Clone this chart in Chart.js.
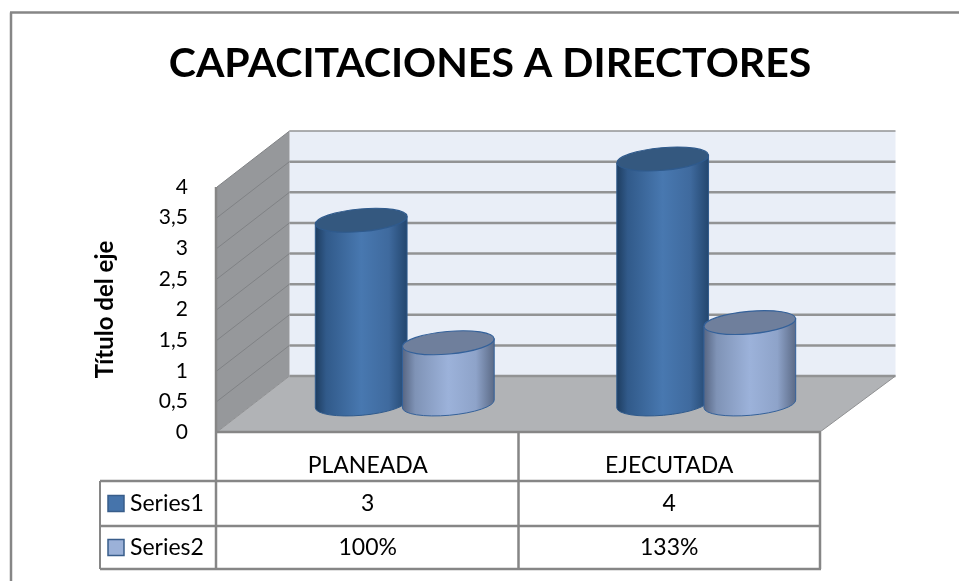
<!DOCTYPE html>
<html><head><meta charset="utf-8">
<style>html,body{margin:0;padding:0;background:#fff}#w{width:959px;height:581px;position:relative}</style>
<script src="https://cdn.jsdelivr.net/npm/chart.js@4"></script>
</head><body><div id="w"><canvas id="c" width="959" height="581"></canvas></div>
<script>
const categories = ['PLANEADA', 'EJECUTADA'];
const series1 = [3, 4];
const series2 = [1, 1.33];
const series1Labels = ['3', '4'];
const series2Labels = ['100%', '133%'];
const seriesNames = ['Series1', 'Series2'];
const titleText = 'CAPACITACIONES A DIRECTORES';
const axisTitle = 'Título del eje';
const FONT = 'Lato, Carlito, "Open Sans", sans-serif';
const LINE = '#868686';
const DX = 74, DY = -56;

function gradient(ctx, x0, x1, stops) {
  const g = ctx.createLinearGradient(x0, 0, x1, 0);
  stops.forEach(s => g.addColorStop(s[0], s[1]));
  return g;
}
const looks = [
  { stops: [[0,'#1e3d60'],[0.12,'#315a8a'],[0.5,'#4878b0'],[0.8,'#3f6a9e'],[1,'#23466e']], cap: '#34587f', edge: '#2f5a8c' },
  { stops: [[0,'#566582'],[0.14,'#7f93b6'],[0.5,'#9cb2da'],[0.8,'#8ea3c9'],[1,'#5b6a86']], cap: '#6f7f9c', edge: '#34619a' }
];
function cylinder(ctx, el, look) {
  const a = el.width / 2, b = 11.3, rot = -5 * Math.PI / 180;
  const cx = el.x + DX / 2, top = el.y + DY / 2, base = el.base + DY / 2;
  const ex = a * Math.cos(rot), ey = a * Math.sin(rot);
  ctx.save();
  ctx.beginPath();
  ctx.moveTo(cx - ex, top - ey);
  ctx.lineTo(cx - ex, base - ey);
  ctx.ellipse(cx, base, a, b, rot, Math.PI, 0, true);
  ctx.lineTo(cx + ex, top + ey);
  ctx.closePath();
  ctx.fillStyle = gradient(ctx, cx - a, cx + a, look.stops);
  ctx.fill();
  ctx.strokeStyle = look.edge; ctx.lineWidth = 1; ctx.stroke();
  ctx.beginPath();
  ctx.ellipse(cx, top, a, b, rot, 0, Math.PI * 2);
  ctx.fillStyle = look.cap; ctx.fill();
  ctx.strokeStyle = look.edge; ctx.lineWidth = 1.2; ctx.stroke();
  ctx.restore();
}
function seg(ctx, x0, y0, x1, y1) { ctx.beginPath(); ctx.moveTo(x0, y0); ctx.lineTo(x1, y1); ctx.stroke(); }
function poly(ctx, pts, fill) {
  ctx.beginPath(); pts.forEach((p, i) => i ? ctx.lineTo(p[0], p[1]) : ctx.moveTo(p[0], p[1]));
  ctx.closePath(); ctx.fillStyle = fill; ctx.fill();
}
const scene = {
  id: 'scene',
  beforeDatasetsDraw(chart) {
    const ctx = chart.ctx, xs = chart.scales.x, ys = chart.scales.y;
    const L = xs.left, R = xs.right, B = ys.bottom, T = ys.top;
    const backL = L + DX - 1.5, backR = R + DX + 1.5;
    ctx.save();
    poly(ctx, [[backL, T + DY], [backR, T + DY], [backR, B + DY], [backL, B + DY]], '#e9eef7');
    poly(ctx, [[L, B], [L, T], [backL, T + DY], [backL, B + DY]], '#96989b');
    poly(ctx, [[L, B], [backL, B + DY], [backR, B + DY], [R, B]], '#b1b3b6');
    ys.ticks.forEach(t => {
      const y = ys.getPixelForValue(t.value);
      ctx.strokeStyle = '#929394'; ctx.lineWidth = t.value === 4 ? 1.5 : 2.5;
      seg(ctx, backL, y + DY, backR, y + DY);
      if (t.value > 0) { ctx.strokeStyle = '#808285'; ctx.lineWidth = 1; seg(ctx, L, y, backL, y + DY); }
    });
    ctx.strokeStyle = '#8f9092'; ctx.lineWidth = 1;
    seg(ctx, L, B, backL, B + DY);
    seg(ctx, R, B, backR, B + DY);
    [0, 1].forEach(d => chart.getDatasetMeta(d).data.forEach(el => cylinder(ctx, el, looks[d])));
    ctx.restore();
  },
  beforeDatasetDraw() { return false; },
  afterDraw(chart) {
    const ctx = chart.ctx, xs = chart.scales.x, ys = chart.scales.y;
    const L = xs.left, R = xs.right, B = ys.bottom, M = (L + R) / 2;
    const tableLeft = 100, rows = [481, 526, 569], swatch = 108;
    ctx.save();
    ctx.strokeStyle = LINE; ctx.lineWidth = 2.5;
    seg(ctx, 11, 581, 11, 12.5);
    seg(ctx, 10, 12.5, 959, 12.5);
    seg(ctx, L - 1, B, R + 1, B);
    [L - 1, M, R].forEach(x => seg(ctx, x, B, x, rows[2]));
    seg(ctx, L - 1, ys.top, L - 1, B);
    rows.forEach(y => seg(ctx, tableLeft, y, R + 1, y));
    ctx.lineWidth = 2;
    seg(ctx, tableLeft, rows[0], tableLeft, rows[2]);
    ctx.font = '23px ' + FONT; ctx.fillStyle = '#000'; ctx.textBaseline = 'middle';
    const rowVals = [series1Labels, series2Labels];
    [0, 1].forEach(r => {
      const cy = (rows[r] + rows[r + 1]) / 2;
      ctx.fillStyle = chart.data.datasets[r].backgroundColor;
      ctx.fillRect(swatch, cy - 8, 16, 16);
      ctx.strokeStyle = '#385d8a'; ctx.lineWidth = 1.5;
      ctx.strokeRect(swatch, cy - 8, 16, 16);
      ctx.fillStyle = '#000'; ctx.textAlign = 'left';
      ctx.fillText(seriesNames[r], 130, cy);
      ctx.textAlign = 'center';
      rowVals[r].forEach((v, i) => ctx.fillText(v, xs.getPixelForTick(i), cy));
    });
    ctx.restore();
  }
};
new Chart(document.getElementById('c'), {
  type: 'bar',
  data: {
    labels: categories,
    datasets: [
      { label: seriesNames[0], data: series1, backgroundColor: '#4674ab' },
      { label: seriesNames[1], data: series2, backgroundColor: '#9bb1d8' }
    ]
  },
  options: {
    responsive: false, animation: false,
    devicePixelRatio: 1,
    layout: { padding: { left: 21, right: 0, top: 0, bottom: 0 } },
    datasets: { bar: { categoryPercentage: 0.578, barPercentage: 1.057 } },
    plugins: {
      legend: { display: false },
      tooltip: { enabled: false },
      title: {
        display: true, text: titleText, color: '#000',
        font: { family: FONT, size: 41, weight: 'bold', lineHeight: 1.2 },
        padding: { top: 39, bottom: 98.8 }
      }
    },
    scales: {
      x: {
        grid: { display: false, drawTicks: false }, border: { display: false },
        ticks: { color: '#000', font: { family: FONT, size: 23 }, padding: 20, maxRotation: 0 },
        afterFit(s) { s.height = 149; }
      },
      y: {
        min: 0, max: 4,
        grid: { display: false, drawTicks: false }, border: { display: false },
        ticks: { stepSize: 0.5, color: '#000', padding: 29, font: { family: FONT, size: 21 },
          callback: v => String(v).replace('.', ',') },
        title: { display: true, text: axisTitle, color: '#000',
          font: { family: FONT, size: 24, weight: 'bold' }, padding: { top: 70, bottom: 0 } },
        afterFit(s) { s.width = 196; }
      },
      gap: {
        position: 'right', type: 'linear', min: 0, max: 1,
        grid: { display: false, drawTicks: false }, border: { display: false },
        ticks: { display: false },
        afterFit(s) { s.width = 139; }
      }
    }
  },
  plugins: [scene]
});
</script></body></html>
